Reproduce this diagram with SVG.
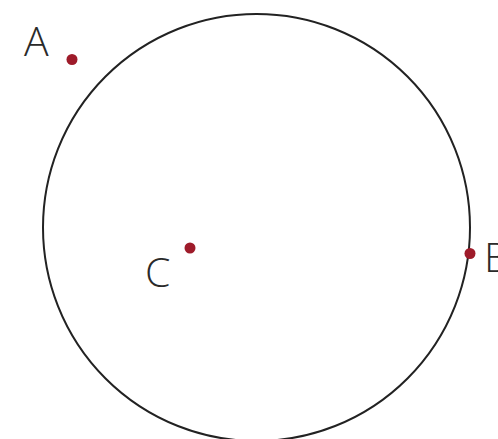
<svg xmlns="http://www.w3.org/2000/svg" width="498" height="439" viewBox="0 0 498 439">
<style>
.lbl{font-family:"Open Sans","Liberation Sans",sans-serif;font-size:41px;font-weight:300;fill:#2a2a2a}
.pt{fill:#9e1b2a}
</style>
<rect width="498" height="439" fill="#fff"/>
<g id="circle"><circle cx="256.5" cy="227.5" r="213.5" fill="none" stroke="#222" stroke-width="2"/></g>
<g id="A"><circle class="pt" cx="72" cy="59.5" r="5.5"/><text class="lbl" x="24" y="56">A</text></g>
<g id="C"><circle class="pt" cx="190" cy="248" r="5.5"/><text class="lbl" x="145" y="287">C</text></g>
<g id="B"><circle class="pt" cx="470" cy="253.5" r="5.5"/><text class="lbl" x="484" y="272">B</text></g>
</svg>
